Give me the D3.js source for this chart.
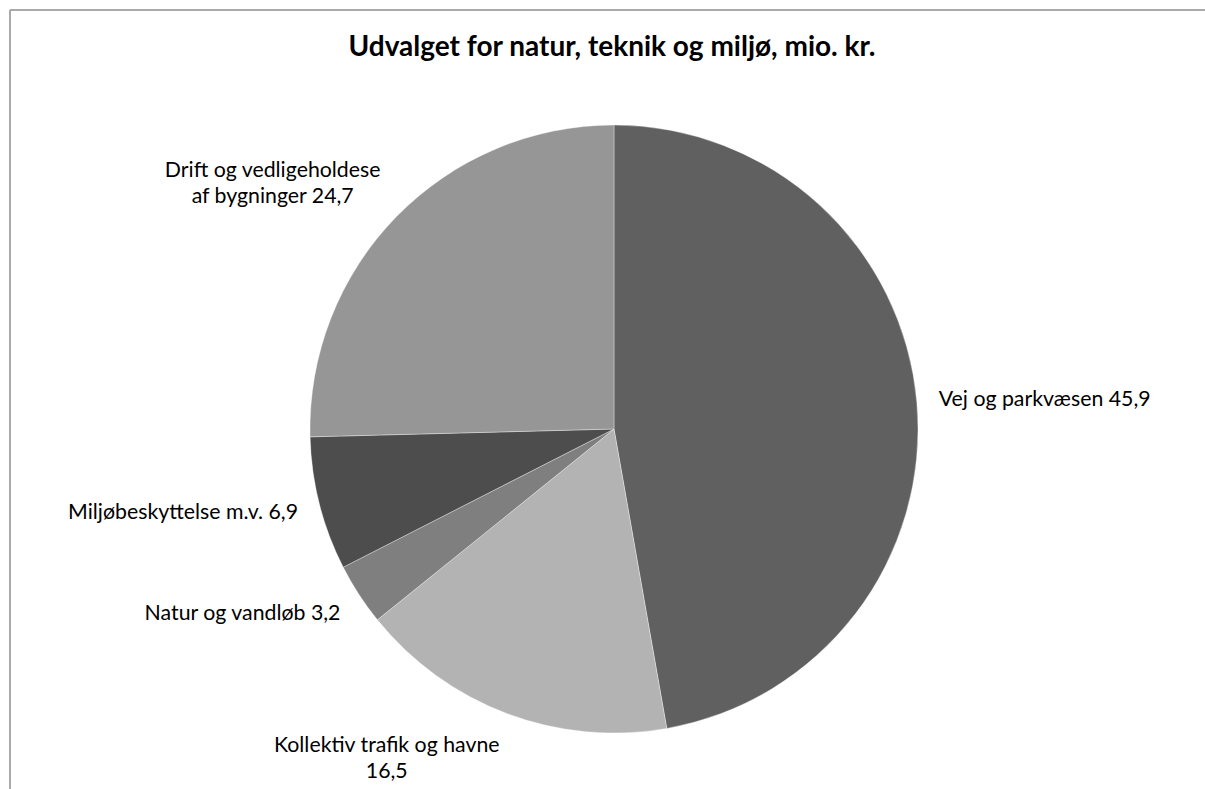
<!DOCTYPE html>
<html>
<head>
<meta charset="utf-8">
<script src="https://cdn.jsdelivr.net/npm/d3@7"></script>
<style>
  body { margin: 0; background: #fff; }
  text { font-family: Lato, "Open Sans", sans-serif; fill: #000; }
</style>
</head>
<body>
<svg id="chart"></svg>
<script>
// data (clockwise from 12 o'clock)
var categories = ["Vej og parkvæsen", "Kollektiv trafik og havne", "Natur og vandløb",
                  "Miljøbeskyttelse m.v.", "Drift og vedligeholdese af bygninger"];
var values = [45.9, 16.5, 3.2, 6.9, 24.7];
// how each label is broken into lines (value goes on the last line)
var labelLines = [["Vej og parkvæsen"], ["Kollektiv trafik og havne", ""], ["Natur og vandløb"],
                  ["Miljøbeskyttelse m.v."], ["Drift og vedligeholdese", "af bygninger"]];
var colors = ["#606060", "#b3b3b3", "#7f7f7f", "#4d4d4d", "#969696"];

var width = 1205, height = 789;
var cx = 614, cy = 429, r = 304;

var svg = d3.select('#chart').attr('width', width).attr('height', height);

// frame (only top and left edges show)
svg.append('line').attr('x1', 10).attr('y1', 10).attr('x2', width).attr('y2', 10)
  .attr('stroke', '#aaa').attr('stroke-width', 2);
svg.append('line').attr('x1', 10).attr('y1', 10).attr('x2', 10).attr('y2', height)
  .attr('stroke', '#aaa').attr('stroke-width', 2);

svg.append('text')
  .attr('x', 612).attr('y', 56)
  .attr('text-anchor', 'middle')
  .style('font-weight', 'bold').style('font-size', '28px')
  .text('Udvalget for natur, teknik og miljø, mio. kr.');

var data = values.map(function (v, i) {
  return { name: categories[i], value: v, color: colors[i], lines: labelLines[i] };
});

var pie = d3.pie().sort(null).value(function (d) { return d.value; });
var arc = d3.arc().innerRadius(0).outerRadius(r);
var arcs = pie(data);

var g = svg.append('g').attr('transform', 'translate(' + cx + ',' + cy + ')');

g.selectAll('path').data(arcs).enter()
  .append('path')
    .attr('d', arc)
    .attr('fill', function (d) { return d.data.color; })
    .attr('stroke', 'rgba(255,255,255,0.5)')
    .attr('stroke-width', 0.7);

function fmt(v) { return String(v).replace('.', ','); }

var fontSize = 21.3, lineH = 26, gap = 22;

arcs.forEach(function (d) {
  var a = (d.startAngle + d.endAngle) / 2;
  var s = Math.sin(a), c = Math.cos(a);
  var px = cx + (r + gap) * s;
  var py = cy - (r + gap) * c;
  var lines = d.data.lines.slice();
  var last = lines.length - 1;
  lines[last] = (lines[last] ? lines[last] + ' ' : '') + fmt(d.data.value);
  var h = lines.length * lineH;
  var k = Math.max(-1, Math.min(1, -c));
  var centerY = py + k * h / 2;
  var top = centerY - h / 2;

  var lg = svg.append('g');
  var texts = lg.selectAll('text').data(lines).enter()
    .append('text')
      .style('font-size', fontSize + 'px')
      .attr('y', function (t, i) { return top + i * lineH + lineH * 0.74; })
      .attr('text-anchor', 'middle')
      .text(function (t) { return t; });
  var maxW = 0;
  texts.each(function () { maxW = Math.max(maxW, this.getComputedTextLength()); });
  var mid = s < 0 ? px - maxW / 2 : px + maxW / 2;
  texts.attr('x', mid);
});
</script>
</body>
</html>
